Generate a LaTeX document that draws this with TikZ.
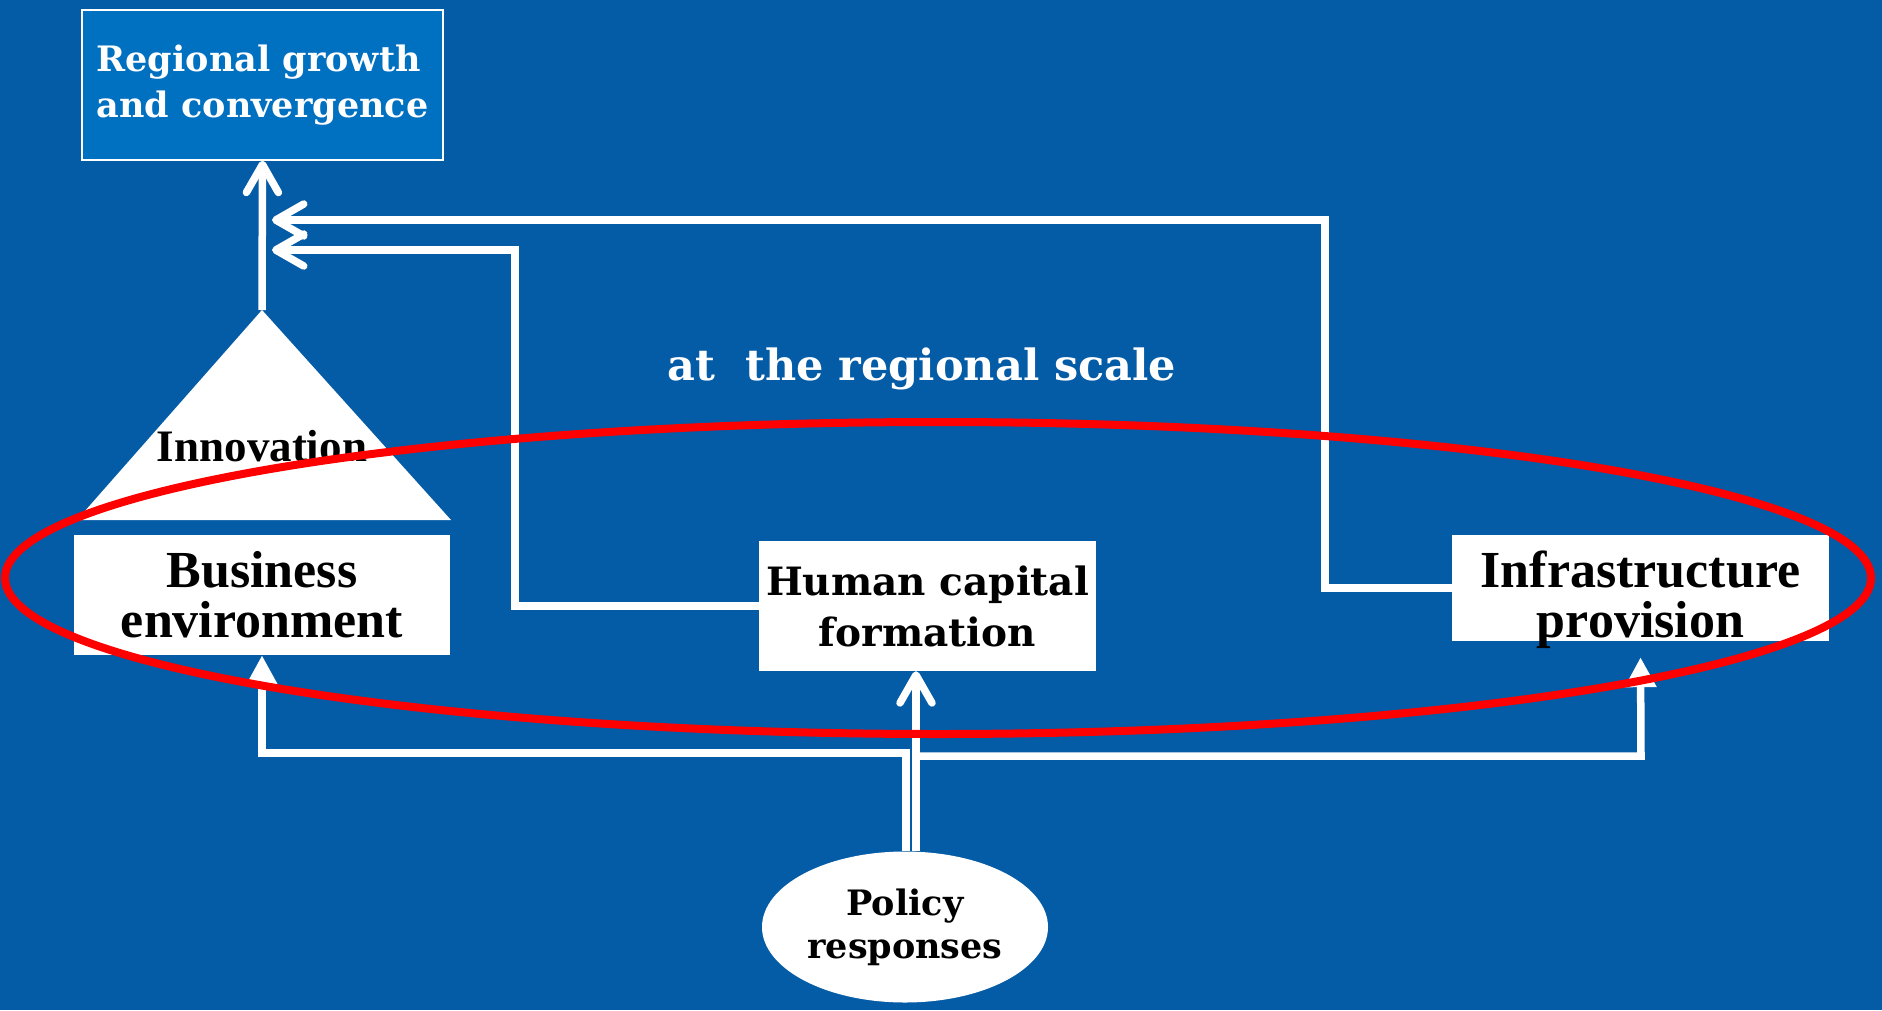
\documentclass[tikz,border=0pt]{standalone}
\usepackage{fontspec}
\setmainfont{Liberation Serif}
\newfontfamily\geo{DejaVu Serif}
\usetikzlibrary{arrows.meta,shapes.geometric}
\definecolor{cBg}{HTML}{045BA6}
\definecolor{cTop}{HTML}{0070C0}
\definecolor{cRing}{HTML}{FF0000}
\tikzset{wline/.style={draw=white,line width=7.5pt},
  wbox/.style={rectangle,fill=white,inner sep=0pt,align=center,font=\fontsize{52}{50}\selectfont\bfseries},
  chev/.tip={Straight Barb[length=28pt,width=32pt,round]},
  wedge/.tip={Triangle[length=30pt,width=30pt]}}
\newcommand{\geofont}[2]{\fontsize{#1}{#2}\selectfont\geo\bfseries}

\begin{document}
\begin{tikzpicture}[x=1pt,y=-1pt]
  \fill[cBg] (0,0) rectangle (1882,1010);
  \useasboundingbox (0,0) rectangle (1882,1010);
  \node[draw=white,line width=1.5pt,fill=cTop,text=white,minimum width=361pt,minimum height=150pt,align=left,font=\geofont{35}{46}] (growth) at (262.5,85) {Regional growth\\and convergence};
  % innovation on top of the business box
  \fill[white] (262,310) -- (451,520) -- (77,520) -- cycle;
  \coordinate (apex) at (262,310);
  \node[anchor=base,font=\fontsize{45}{45}\selectfont\bfseries] (innov) at (262,461) {Innovation};
  \node[wbox,minimum width=376pt,minimum height=120pt] (business) at (262,595) {Business\\environment};
  \node[wbox,minimum width=337pt,minimum height=130pt,font=\geofont{39}{51}] (human) at (927.5,606) {Human capital\\formation};
  \node[wbox,minimum width=377pt,minimum height=106pt] (infra) at (1640.5,588) {};
  \node[wbox,fill=none] (infratxt) at (1640.5,600) {Infrastructure\\provision};
  \node[anchor=base,text=white,font=\geofont{43}{43}] (scale) at (922,380) {at\ \ the regional scale};
  \node[ellipse,fill=white,minimum width=286pt,minimum height=151pt,inner sep=0pt,align=center,font=\geofont{35}{43}] (policy) at (905,927) {Policy\\responses};
  % feedback to growth
  \coordinate (hcjoin) at (272,250);
  \coordinate (infjoin) at (272,220);
  \draw[wline,-chev] (apex) -- (growth.south);
  \draw[wline,-chev] (human.west) -| (515,250) -- (hcjoin);
  \draw[wline,-chev] (infra.west) -| (1325,220) -- (infjoin);
  % policy lines
  \coordinate (busdrop) at (262,753);
  \coordinate (infdrop) at (1641,756);
  \draw[wline,-wedge] ([xshift=1pt]policy.north) |- (busdrop) -- (business.south);
  \draw[wline,-chev] ([xshift=11pt]policy.north) -- ([xshift=11pt]policy.north |- human.south);
  \draw[wline,-wedge] ([xshift=11pt]policy.north |- infdrop) -- (infdrop) -- ([yshift=-16pt]infra.south);
  \draw[cRing,line width=8pt] (938,578) ellipse [x radius=933pt,y radius=156pt];
\end{tikzpicture}
\end{document}
